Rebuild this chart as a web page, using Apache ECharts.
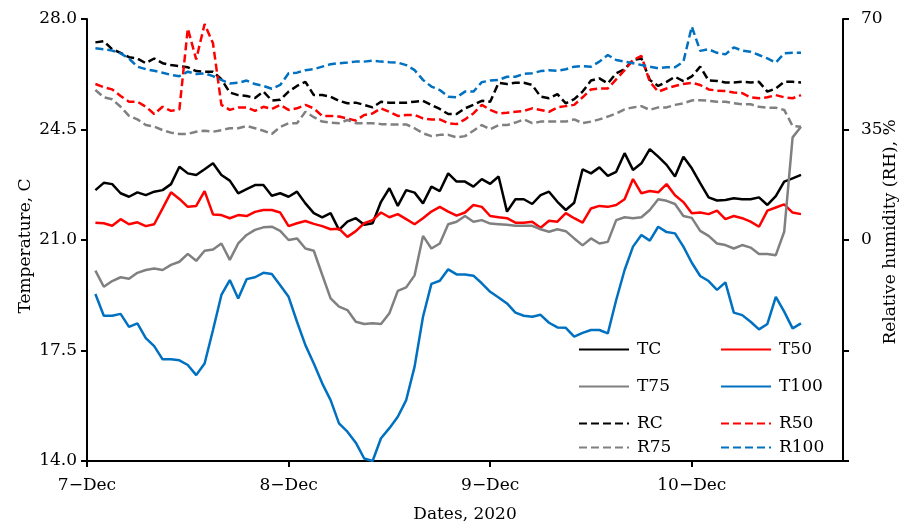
<!DOCTYPE html>
<html><head><meta charset="utf-8">
<script src="https://cdn.jsdelivr.net/npm/echarts@6/dist/echarts.min.js"></script>
<style>html,body{margin:0;padding:0;background:#fff}#c{width:907px;height:528px}</style>
</head><body><div id="c"></div><script>
// hours after 7-Dec 00:00
const hours = [1,2,3,4,5,6,7,8,9,10,11,12,13,14,15,16,17,18,19,20,21,22,23,24,25,26,27,28,29,30,31,32,33,34,35,36,37,38,39,40,41,42,43,44,45,46,47,48,49,50,51,52,53,54,55,56,57,58,59,60,61,62,63,64,65,66,67,68,69,70,71,72,73,74,75,76,77,78,79,80,81,82,83,84,85];
const dayTicks = [0,24,48,72];
const dayLabels = ['7\u2212Dec','8\u2212Dec','9\u2212Dec','10\u2212Dec'];

const TC = [22.58,22.81,22.77,22.48,22.37,22.51,22.42,22.53,22.58,22.77,23.32,23.11,23.06,23.24,23.43,23.06,22.88,22.48,22.61,22.74,22.74,22.40,22.48,22.37,22.53,22.16,21.85,21.72,21.85,21.32,21.58,21.69,21.48,21.53,22.21,22.64,22.08,22.58,22.50,22.16,22.69,22.55,23.11,22.85,22.85,22.69,22.93,22.78,23.01,21.90,22.29,22.29,22.14,22.42,22.53,22.21,21.95,22.18,23.24,23.11,23.30,23.03,23.16,23.75,23.22,23.43,23.88,23.64,23.38,23.01,23.64,23.27,22.80,22.35,22.25,22.27,22.32,22.29,22.29,22.35,22.11,22.39,22.85,22.95,23.06];
const T50 = [21.55,21.53,21.45,21.66,21.50,21.56,21.44,21.50,22.00,22.51,22.30,22.05,22.08,22.55,21.81,21.79,21.69,21.79,21.76,21.89,21.95,21.95,21.87,21.44,21.53,21.60,21.51,21.44,21.34,21.36,21.10,21.28,21.53,21.63,21.87,21.72,21.82,21.66,21.50,21.69,21.90,22.05,21.90,21.77,21.87,22.11,22.05,21.76,21.72,21.69,21.55,21.55,21.58,21.39,21.61,21.58,21.85,21.69,21.55,22.00,22.08,22.05,22.11,22.29,22.93,22.48,22.55,22.51,22.77,22.42,22.20,21.85,21.87,21.82,21.93,21.66,21.76,21.69,21.58,21.42,21.93,22.03,22.13,21.87,21.82];
const T75 = [20.03,19.52,19.70,19.82,19.77,19.96,20.05,20.10,20.05,20.21,20.31,20.56,20.34,20.66,20.70,20.89,20.37,20.89,21.16,21.32,21.40,21.42,21.29,21.00,21.05,20.73,20.66,19.90,19.15,18.89,18.78,18.41,18.34,18.36,18.34,18.68,19.39,19.50,19.88,21.13,20.73,20.89,21.50,21.58,21.76,21.58,21.63,21.52,21.50,21.48,21.45,21.45,21.45,21.34,21.26,21.34,21.28,21.05,20.83,21.05,20.89,20.94,21.63,21.72,21.69,21.72,21.95,22.29,22.24,22.14,21.76,21.70,21.29,21.13,20.89,20.84,20.73,20.84,20.76,20.56,20.56,20.52,21.26,24.25,24.59];
const T100 = [19.29,18.60,18.60,18.66,18.25,18.36,17.89,17.64,17.22,17.22,17.19,17.04,16.72,17.09,18.15,19.26,19.73,19.15,19.76,19.82,19.96,19.92,19.57,19.20,18.41,17.67,17.09,16.46,15.93,15.19,14.93,14.58,14.08,14.00,14.72,15.04,15.40,15.93,16.99,18.57,19.61,19.71,20.07,19.91,19.91,19.87,19.63,19.36,19.18,18.99,18.70,18.60,18.57,18.63,18.38,18.23,18.22,17.94,18.06,18.15,18.15,18.04,19.10,20.05,20.79,21.16,20.98,21.42,21.25,21.21,20.79,20.28,19.86,19.70,19.42,19.66,18.70,18.62,18.41,18.17,18.34,19.20,18.73,18.20,18.36];
const RC = [62.6,63.0,60.4,59.3,57.9,57.5,56.0,57.5,56.0,55.4,55.1,54.7,53.5,53.3,53.3,50.9,46.7,45.9,45.6,45.0,47.0,44.2,44.4,47.0,48.8,50.1,45.9,45.9,45.4,44.1,43.3,43.5,42.8,42.0,43.8,43.5,43.5,43.5,43.8,44.1,42.8,41.5,39.9,39.9,41.7,42.8,44.1,43.8,49.8,49.4,49.8,49.8,49.1,45.4,44.9,46.2,43.3,44.6,47.0,50.5,51.2,49.6,52.8,54.1,57.0,57.5,50.7,48.8,50.1,51.7,50.3,51.8,54.9,50.5,50.4,49.9,49.9,50.1,49.9,50.1,47.0,48.0,50.1,50.1,49.9];
const R50 = [49.4,48.4,47.7,45.6,43.8,43.8,42.2,39.9,42.2,40.9,41.4,67.0,57.2,68.4,62.3,42.8,41.2,42.0,42.0,40.9,42.2,41.5,42.8,41.2,41.7,42.8,41.7,39.3,39.3,39.1,38.5,37.8,39.6,40.1,41.7,40.6,39.3,39.6,39.6,38.5,38.2,38.2,37.0,36.7,38.2,40.1,42.8,41.2,40.1,40.3,40.6,40.9,41.7,41.2,40.6,42.0,42.4,42.8,45.2,47.7,48.0,48.0,50.9,53.8,57.0,58.3,50.1,47.0,48.0,48.8,49.4,49.8,49.1,47.7,47.3,47.2,46.7,46.5,45.2,44.9,45.2,45.9,45.2,44.9,45.9];
const R75 = [47.5,45.2,44.6,42.2,39.3,38.2,36.4,35.9,34.8,34.0,33.6,33.6,34.3,34.6,34.3,34.8,35.4,35.4,36.1,35.4,34.6,33.6,35.8,37.0,37.0,40.6,38.9,37.5,37.2,37.0,38.0,37.0,37.0,37.0,36.7,36.6,36.6,36.6,35.4,33.8,32.9,33.3,33.3,32.5,32.9,34.6,36.4,35.1,36.4,36.4,37.2,38.2,37.0,37.5,37.5,37.5,37.5,38.2,37.0,37.5,38.2,39.1,40.1,41.4,42.0,42.4,41.2,42.0,42.0,42.8,43.3,44.2,44.3,44.1,43.8,43.8,43.3,43.0,43.0,42.2,41.9,41.9,41.2,36.1,35.9];
const R100 = [60.7,60.4,60.0,59.1,57.5,54.9,54.1,53.6,53.0,52.3,51.9,53.3,52.6,52.8,51.9,50.7,49.6,49.8,50.5,49.4,48.8,47.9,49.1,52.8,53.0,53.8,54.1,54.9,55.7,56.0,56.2,56.5,56.5,56.8,56.5,56.3,56.2,55.4,53.8,50.7,48.6,47.5,45.4,45.2,47.0,47.0,50.0,50.5,50.7,51.7,51.7,52.6,52.8,53.5,53.8,53.6,54.1,54.9,55.1,54.9,56.5,58.6,57.0,56.5,56.0,55.4,54.9,54.4,54.7,54.7,56.5,67.6,59.9,60.4,59.3,58.8,61.0,60.0,59.6,58.6,57.5,56.2,59.1,59.3,59.3];

const FONT = '"DejaVu Serif",serif';
const FS = 17;
const seriesDefs = [
  {name:'TC', data:TC, color:'#000000', axis:0, dash:false},
  {name:'T50', data:T50, color:'#ff0000', axis:0, dash:false},
  {name:'T75', data:T75, color:'#808080', axis:0, dash:false},
  {name:'T100', data:T100, color:'#0070c0', axis:0, dash:false},
  {name:'RC', data:RC, color:'#000000', axis:1, dash:true},
  {name:'R50', data:R50, color:'#ff0000', axis:1, dash:true},
  {name:'R75', data:R75, color:'#808080', axis:1, dash:true},
  {name:'R100', data:R100, color:'#0070c0', axis:1, dash:true}
];
const legendPos = {
  TC:[578,341], T50:[720,341], T75:[578,378], T100:[720,378],
  RC:[578,415], R50:[720,415], R75:[578,439], R100:[720,439]
};
const chart = echarts.init(document.getElementById('c'), null, {renderer:'canvas'});
const axisLineStyle = {color:'#000', width:2};
const option = {
  animation:false,
  backgroundColor:'#fff',
  grid:{left:87, right:64, top:19, bottom:67, containLabel:false},
  xAxis:{type:'value', min:0, max:90, position:'bottom',
    axisLine:{show:true, onZero:false, lineStyle:axisLineStyle},
    axisTick:{show:true, inside:false, length:6, lineStyle:axisLineStyle, customValues:dayTicks},
    axisLabel:{show:true, customValues:dayTicks, margin:16, color:'#000', fontFamily:FONT, fontSize:FS,
      formatter:v=>dayLabels[dayTicks.indexOf(v)] || ''},
    splitLine:{show:false}},
  yAxis:[
    {type:'value', min:14, max:28, interval:3.5, position:'left',
      axisLine:{show:true, onZero:false, lineStyle:axisLineStyle},
      axisTick:{show:true, inside:false, length:6, lineStyle:axisLineStyle},
      axisLabel:{color:'#000', fontFamily:FONT, fontSize:FS, margin:10, formatter:v=>v.toFixed(1)},
      splitLine:{show:false}},
    {type:'value', min:-70, max:70, interval:35, position:'right',
      axisLine:{show:true, onZero:false, lineStyle:axisLineStyle},
      axisTick:{show:true, inside:false, length:6, lineStyle:axisLineStyle},
      axisLabel:{color:'#000', fontFamily:FONT, fontSize:FS, margin:18, formatter:v=> v>=0 ? String(v) : ''},
      splitLine:{show:false}}
  ],
  legend: seriesDefs.map(s=>({
    data:[s.name], left:legendPos[s.name][0], top:legendPos[s.name][1], padding:0,
    itemWidth:50, itemHeight:14, itemGap:0, selectedMode:false,
    itemStyle:{color:'rgba(0,0,0,0)', borderColor:'rgba(0,0,0,0)', borderWidth:0, opacity:0},
    textStyle:{color:'#000', fontFamily:FONT, fontSize:FS, padding:[0,0,0,3]}
  })),
  graphic:[
    {type:'text', x:26, y:246, rotation:Math.PI/2, style:{text:'Temperature, C', fill:'#000', font:FS+'px '+FONT, textAlign:'center', textVerticalAlign:'middle'}},
    {type:'text', x:891, y:232, rotation:Math.PI/2, style:{text:'Relative humidity (RH), %', fill:'#000', font:FS+'px '+FONT, textAlign:'center', textVerticalAlign:'middle'}},
    {type:'text', x:465, y:515, style:{text:'Dates, 2020', fill:'#000', font:FS+'px '+FONT, textAlign:'center', textVerticalAlign:'middle'}}
  ],
  series: seriesDefs.map(s=>({
    name:s.name, type:'line', yAxisIndex:s.axis, symbol:'none', showSymbol:false,
    data: hours.map((h,i)=>[h, s.data[i]]),
    lineStyle:{color:s.color, width:2.5, type: s.dash ? [8,4] : 'solid'},
    itemStyle:{color:s.color},
    z: s.dash ? 2 : 3
  }))
};
chart.setOption(option);
</script></body></html>
